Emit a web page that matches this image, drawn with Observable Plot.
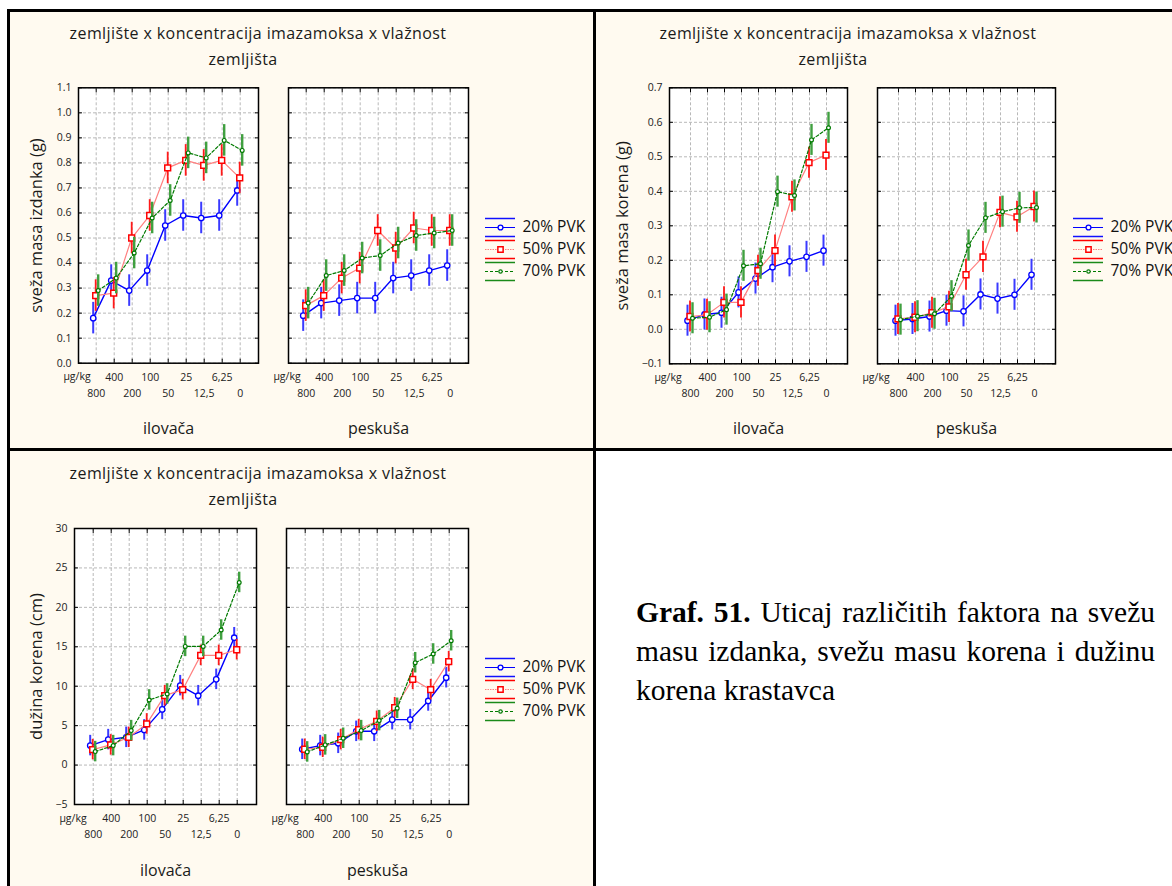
<!DOCTYPE html>
<html><head><meta charset="utf-8">
<script src="https://cdn.jsdelivr.net/npm/d3@7"></script>
<script src="https://cdn.jsdelivr.net/npm/@observablehq/plot@0.6"></script>
<style>
body{margin:0;width:1172px;height:886px;position:relative;background:#fff;overflow:hidden;font-family:"Open Sans",sans-serif;}
.box{position:absolute;box-sizing:border-box;border:3px solid #000;background:#fffaf0;}
.t{position:absolute;transform:translateX(-50%);white-space:nowrap;font-size:16px;letter-spacing:0.4px;line-height:20px;color:#1a1a1a;}
.cap{position:absolute;left:636px;width:519px;font-family:"Liberation Serif","Times New Roman",serif;font-size:29.5px;line-height:39px;color:#000;}
.cap div{white-space:nowrap;}
.cap .j{text-align:justify;text-align-last:justify;white-space:normal;}
</style></head><body>
<div class="box" style="left:7px;top:9px;width:589px;height:442px"></div>
<div class="box" style="left:593px;top:9px;width:590px;height:442px"></div>
<div class="box" style="left:7px;top:448px;width:589px;height:445px"></div>
<div id="root"></div>
<div class="cap" style="top:593px">
  <div class="j"><b>Graf. 51.</b> Uticaj različitih faktora na svežu</div>
  <div class="j">masu izdanka, svežu masu korena i dužinu</div>
  <div>korena krastavca</div>
</div>
<script>
// ---------- data ----------
const concentrations = ["800","400","200","100","50","25","12,5","6,25","0"];
const topRowLabels = ["400","100","25","6,25"];
const bottomRowLabels = ["800","200","50","12,5","0"];
const unitLabel = "µg/kg";
const soils = ["ilovača","peskuša"];
const moistures = ["20% PVK","50% PVK","70% PVK"];
const titleLine1 = "zemljište x koncentracija imazamoksa x vlažnost";
const titleLine2 = "zemljišta";

// fresh shoot mass (g)
const shoot_ilovaca_20 = [0.18,0.33,0.29,0.37,0.55,0.59,0.58,0.59,0.69];
const shoot_ilovaca_50 = [0.27,0.28,0.50,0.59,0.78,0.81,0.79,0.81,0.74];
const shoot_ilovaca_70 = [0.29,0.34,0.44,0.58,0.65,0.84,0.82,0.89,0.85];
const shoot_peskusa_20 = [0.19,0.24,0.25,0.26,0.26,0.34,0.35,0.37,0.39];
const shoot_peskusa_50 = [0.23,0.27,0.34,0.38,0.53,0.46,0.54,0.53,0.53];
const shoot_peskusa_70 = [0.24,0.35,0.37,0.42,0.43,0.48,0.51,0.52,0.53];
const shoot_ci = 0.063;
const shootTicks = [0,0.1,0.2,0.3,0.4,0.5,0.6,0.7,0.8,0.9,1.0,1.1];

// fresh root mass (g)
const root_ilovaca_20 = [0.025,0.043,0.048,0.107,0.147,0.180,0.197,0.210,0.228];
const root_ilovaca_50 = [0.037,0.042,0.078,0.078,0.170,0.228,0.384,0.483,0.505];
const root_ilovaca_70 = [0.032,0.035,0.057,0.184,0.190,0.399,0.388,0.549,0.584];
const root_peskusa_20 = [0.025,0.030,0.037,0.054,0.052,0.101,0.089,0.100,0.158];
const root_peskusa_50 = [0.030,0.035,0.048,0.065,0.158,0.210,0.339,0.326,0.356];
const root_peskusa_70 = [0.028,0.038,0.045,0.096,0.243,0.323,0.341,0.352,0.353];
const root_ci = 0.045;
const rootTicks = [-0.1,0,0.1,0.2,0.3,0.4,0.5,0.6,0.7];

// root length (cm)
const len_ilovaca_20 = [2.47,3.23,3.52,4.46,7.06,10.07,8.80,10.87,16.15];
const len_ilovaca_50 = [1.96,2.56,3.52,5.22,8.80,9.56,13.91,13.91,14.63];
const len_ilovaca_70 = [1.71,2.47,4.37,8.26,9.02,15.05,15.05,17.13,23.16];
const len_peskusa_20 = [2.00,2.47,2.76,4.28,4.28,5.76,5.76,8.13,11.08];
const len_peskusa_50 = [2.00,2.26,3.23,4.50,5.55,7.28,10.87,9.56,13.11];
const len_peskusa_70 = [1.67,2.56,3.40,4.37,5.64,7.20,12.98,14.09,15.77];
const len_ci = 1.3;
const lenTicks = [-5,0,5,10,15,20,25,30];

// ---------- styles ----------
const styles = {
  "20% PVK": {line:"#0000ff", dot:"#0000ff", width:1.4, dash:null, legendDash:null, bar:"#3a3aff", barW:2, legendBar:"#8888ff", cap:"#1010ff", symbol:"circle", r:2.7, dotW:1.3, dx:-3},
  "50% PVK": {line:"#ff8080", dot:"#ff0000", width:1.2, dash:null, legendDash:"1.5,1", bar:"#ff1a1a", barW:1.8, legendBar:"#ff8c8c", cap:"#ff0000", symbol:"square", r:3.3, dotW:1.5, dx:-0.5},
  "70% PVK": {line:"#007a00", dot:"#007a00", width:1.2, dash:"3,2", legendDash:"3,2", bar:"#40a040", barW:2.4, legendBar:"#70c070", cap:"#1a8a1a", symbol:"circle", r:1.9, dotW:1.2, dx:2}
};
const FONT = "'Open Sans', sans-serif";

function rowsOf(series, ci) {
  const rows = [];
  for (const s of soils) for (const m of moistures) {
    series[s][m].forEach((v, i) => rows.push({soil:s, moisture:m, conc:concentrations[i], value:v, lo:v-ci, hi:v+ci}));
  }
  return rows;
}

function chart(cfg) {
  const rows = rowsOf(cfg.series, cfg.ci);
  const grid = {stroke:"#b8b8b8", strokeOpacity:1, strokeDasharray:"3,2", strokeWidth:1};
  const marks = [
    Plot.frame({fill:"white", stroke:null}),
    Plot.gridX(concentrations, grid),
    Plot.gridY(cfg.ticks, grid),
    Plot.axisX(concentrations, {anchor:"bottom", tickSize:4, dy:-4, tickFormat:()=>"", label:null, stroke:"#000"}),
    Plot.axisX(concentrations, {anchor:"top", tickSize:4, dy:4, tickFormat:()=>"", label:null, stroke:"#000"}),
    Plot.axisY(cfg.ticks, {anchor:"left", tickSize:4, dx:4, tickFormat:()=>"", label:null, facetAnchor:null, stroke:"#000"}),
    Plot.axisY(cfg.ticks, {anchor:"right", tickSize:4, dx:-4, tickFormat:()=>"", label:null, facetAnchor:null, stroke:"#000"}),
    Plot.frame({stroke:"#000", strokeWidth:1.5}),
    Plot.axisY(cfg.ticks, {anchor:"left", tickSize:0, tickPadding:7, tickFormat:cfg.format, label:null, fontSize:10.5, fill:"#222"}),
    Plot.axisX(topRowLabels, {anchor:"bottom", tickSize:0, tickPadding:10, label:null, fontSize:10.5, fill:"#222"}),
    Plot.axisX(bottomRowLabels, {anchor:"bottom", tickSize:0, tickPadding:26, label:null, fontSize:10.5, fill:"#222"}),
    Plot.text([unitLabel], {frameAnchor:"bottom-left", dy:13.7, dx:-1.5, text:d=>d, fontSize:10.5, fill:"#222", textAnchor:"middle", lineAnchor:"middle"}),
    Plot.axisFx({anchor:"bottom", tickSize:0, tickPadding:cfg.fxPad, label:null, fontSize:16, fill:"#1a1a1a"}),
    Plot.text([cfg.ylabel], {fx:()=>soils[0], frameAnchor:"left", rotate:-90, dx:cfg.ylabelDx, text:d=>d, textAnchor:"middle", lineAnchor:"middle", fontSize:16.5, fill:"#1a1a1a"})
  ];
  for (const m of moistures) {
    const st = styles[m];
    const data = rows.filter(d => d.moisture === m);
    marks.push(
      Plot.ruleX(data, {x:"conc", y1:"lo", y2:"hi", fx:"soil", dx:st.dx, stroke:st.bar, strokeWidth:st.barW}),
      Plot.line(data, {x:"conc", y:"value", fx:"soil", dx:st.dx, stroke:st.line, strokeWidth:st.width, strokeDasharray:st.dash}),
      Plot.dot(data, {x:"conc", y:"value", fx:"soil", dx:st.dx, symbol:st.symbol, r:st.r, stroke:st.dot, strokeWidth:st.dotW, fill:"white"})
    );
  }
  const p = Plot.plot({
    width:cfg.width, height:cfg.height,
    marginLeft:cfg.ml, marginRight:cfg.mr, marginTop:cfg.mt, marginBottom:cfg.mb,
    style:{background:"none", fontFamily:FONT, overflow:"visible"},
    x:{type:"point", domain:concentrations, padding:cfg.xpad},
    y:{domain:cfg.domain},
    fx:{domain:soils, paddingInner:cfg.fxInner, paddingOuter:0},
    marks
  });
  p.style.position = "absolute"; p.style.left = cfg.left + "px"; p.style.top = cfg.top + "px";
  return p;
}

function legend(left, top) {
  const marks = [];
  for (const m of moistures) {
    const st = styles[m];
    marks.push(
      Plot.ruleX([m], {x:()=>0.5, y:d=>d, insetTop:2.25, insetBottom:2.25, stroke:st.legendBar, strokeWidth:2.2}),
      Plot.ruleY([m], {y:d=>d, x1:0, x2:1, dy:-9, stroke:st.cap, strokeWidth:1.5}),
      Plot.ruleY([m], {y:d=>d, x1:0, x2:1, dy:9, stroke:st.cap, strokeWidth:1.5}),
      Plot.ruleY([m], {y:d=>d, x1:0, x2:1, stroke:st.line, strokeWidth:1, strokeDasharray:st.legendDash}),
      Plot.dot([m], {x:()=>0.5, y:d=>d, symbol:st.symbol, r:st.r*0.9, stroke:st.dot, strokeWidth:st.dotW, fill:"white"}),
      Plot.text([m], {x:()=>1, y:d=>d, dx:7, text:d=>d, textAnchor:"start", fontSize:15.5, fill:"#111"})
    );
  }
  const p = Plot.plot({
    width:110, height:100, marginLeft:5, marginRight:75, marginTop:15.5, marginBottom:17,
    style:{background:"none", fontFamily:FONT, overflow:"visible"},
    x:{domain:[0,1], axis:null}, y:{type:"band", domain:moistures, padding:0, axis:null},
    marks
  });
  p.style.position = "absolute"; p.style.left = left + "px"; p.style.top = top + "px";
  return p;
}

function title(cx, cy) {
  const a = document.createElement("div"); a.className = "t"; a.textContent = titleLine1;
  a.style.left = cx + "px"; a.style.top = (cy - 10) + "px";
  const b = document.createElement("div"); b.className = "t"; b.textContent = titleLine2;
  b.style.left = (cx - 15) + "px"; b.style.top = (cy + 16) + "px";
  return [a, b];
}

const root = document.getElementById("root");
const add = el => root.appendChild(el);

// chart 1
title(258, 33).forEach(add);
add(chart({
  series:{"ilovača":{"20% PVK":shoot_ilovaca_20,"50% PVK":shoot_ilovaca_50,"70% PVK":shoot_ilovaca_70},
          "peskuša":{"20% PVK":shoot_peskusa_20,"50% PVK":shoot_peskusa_50,"70% PVK":shoot_peskusa_70}},
  ci:shoot_ci, ticks:shootTicks, domain:[0,1.1], format:d3.format(".1f"),
  ylabel:"sveža masa izdanka (g)", ylabelDx:-42,
  left:0, top:60, width:480, height:390, ml:77.3, mr:11.7, mt:27.3, mb:87.3,
  fxInner:0.1425, xpad:1, fxPad:59
}));
add(legend(480, 200));

// chart 2
title(848, 33).forEach(add);
add(chart({
  series:{"ilovača":{"20% PVK":root_ilovaca_20,"50% PVK":root_ilovaca_50,"70% PVK":root_ilovaca_70},
          "peskuša":{"20% PVK":root_peskusa_20,"50% PVK":root_peskusa_50,"70% PVK":root_peskusa_70}},
  ci:root_ci, ticks:rootTicks, domain:[-0.1,0.7], format:d3.format(".1f"),
  ylabel:"sveža masa korena (g)", ylabelDx:-47,
  left:590, top:60, width:582, height:390, ml:79, mr:116.3, mt:27.3, mb:86.7,
  fxInner:0.144, xpad:1, fxPad:59
}));
add(legend(1068, 199.5));

// chart 3
title(258, 473).forEach(add);
add(chart({
  series:{"ilovača":{"20% PVK":len_ilovaca_20,"50% PVK":len_ilovaca_50,"70% PVK":len_ilovaca_70},
          "peskuša":{"20% PVK":len_peskusa_20,"50% PVK":len_peskusa_50,"70% PVK":len_peskusa_70}},
  ci:len_ci, ticks:lenTicks, domain:[-5,30], format:d3.format("d"),
  ylabel:"dužina korena (cm)", ylabelDx:-38,
  left:0, top:500, width:480, height:386, ml:73.3, mr:11.7, mt:28, mb:82,
  fxInner:0.141, xpad:0.95, fxPad:60
}));
add(legend(480, 640));
</script>
</body></html>
